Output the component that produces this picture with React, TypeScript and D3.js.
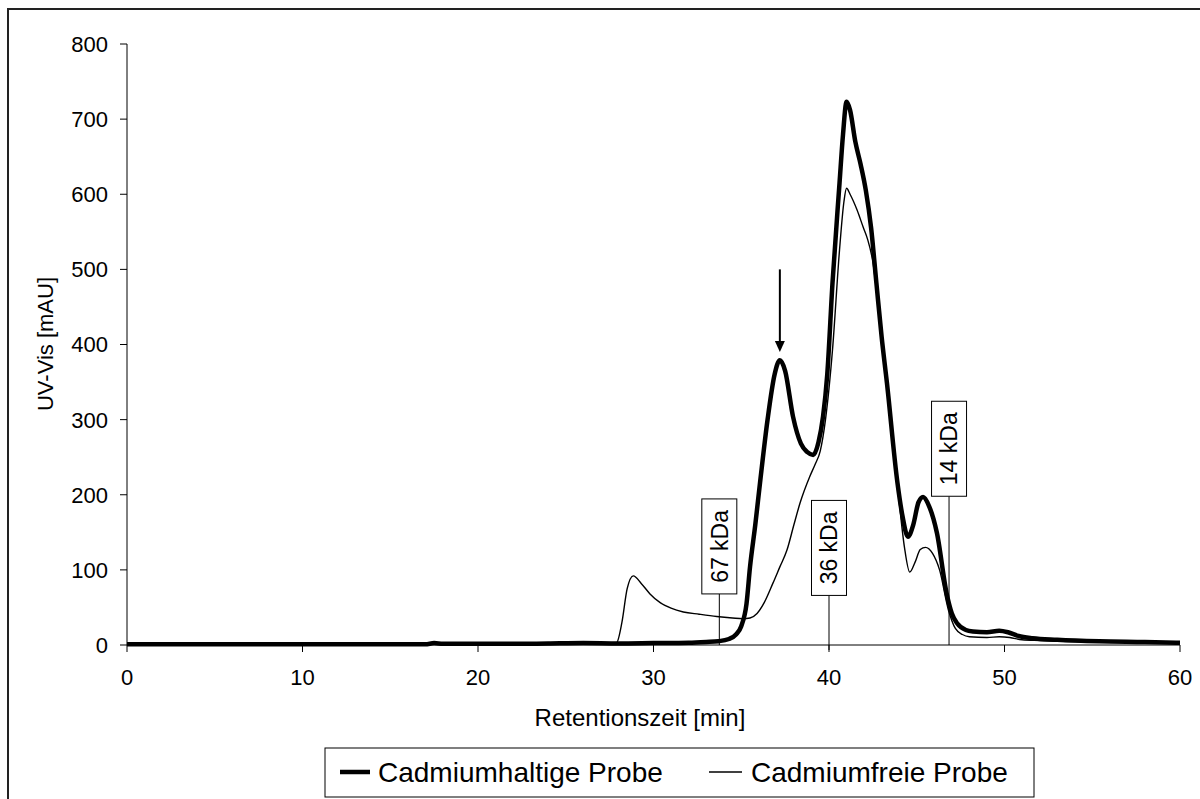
import React from "react";
import * as d3 from "d3";

// ---- Data ----
const thickTimes = [0, 5, 10, 15, 17, 17.5, 18, 20, 22, 24, 26, 28, 30, 32, 33, 33.7, 34.3, 34.7, 35.0, 35.3, 35.5, 35.8, 36.07, 36.5, 36.9, 37.2, 37.5, 37.95, 38.4, 38.75, 39.1, 39.4, 39.66, 39.9, 40.2, 40.6, 40.8, 41.0, 41.2, 41.5, 41.8, 42.1, 42.4, 42.7, 43.0, 43.3, 43.9, 44.2, 44.5, 44.8, 45.1, 45.36, 45.7, 46.15, 46.7, 47.0, 47.3, 47.8, 48.2, 49.0, 49.7, 50.2, 50.8, 51.6, 53, 55.4, 58, 60];
const thickValues = [1, 1, 1, 1, 1, 2.5, 1.5, 1.5, 1.5, 2, 2.5, 2, 2.5, 3, 4, 5, 8, 14, 25, 55, 104, 160, 216, 300, 360, 379, 365, 304, 268, 257, 253, 270, 304, 360, 482, 615, 680, 723, 712, 670, 640, 605, 555, 482, 410, 349, 216, 170, 144, 160, 190, 197, 185, 149, 69, 42, 29, 20, 18, 17, 19, 17, 12, 9, 7, 5, 4, 3];

const thinTimes = [0, 10, 20, 25, 27.5, 27.9, 28.2, 28.5, 28.85, 29.3, 29.8, 30.4, 31.0, 31.7, 32.6, 33.6, 34.5, 35.1, 35.5, 35.9, 36.3, 36.8, 37.2, 37.6, 38.0, 38.35, 38.9, 39.2, 39.5, 39.8, 40.2, 40.6, 40.85, 41.0, 41.2, 41.6, 41.95, 42.2, 42.5, 43.0, 43.5, 44.0, 44.3, 44.6, 44.9, 45.2, 45.5, 45.9, 46.3, 46.8, 47.2, 47.6, 48, 49, 49.7, 50.3, 51, 52, 55, 58, 60];
const thinValues = [1, 1, 1, 1, 1, 3, 30, 75, 92, 82, 68, 56, 49, 44, 41, 38, 36, 35, 36, 42, 56, 82, 104, 126, 160, 189, 224, 240, 258, 300, 393, 526, 590, 608, 600, 579, 556, 540, 510, 405, 300, 190, 130, 97, 110, 127, 130, 122, 100, 47, 22, 14, 11, 10, 11, 10, 7, 6, 4, 3, 2];

const xTicks = [0, 10, 20, 30, 40, 50, 60];
const yTicks = [0, 100, 200, 300, 400, 500, 600, 700, 800];

const markerLabels = ["67 kDa", "36 kDa", "14 kDa"];
const markerTimes = [33.75, 40, 46.84];
const markerBoxBottoms = [68, 66, 198];

const arrowTime = 37.2;
const arrowFrom = 500;
const arrowTo = 390;

const seriesNames = ["Cadmiumhaltige Probe", "Cadmiumfreie Probe"];

export default function App() {
  const x = d3.scaleLinear().domain([0, 60]).range([127, 1180]);
  const y = d3.scaleLinear().domain([0, 800]).range([645, 44]);
  const line = d3
    .line<[number, number]>()
    .x((d) => x(d[0]))
    .y((d) => y(d[1]))
    .curve(d3.curveMonotoneX);
  const thick = line(thickTimes.map((t, i) => [t, thickValues[i]]) as [number, number][]) || "";
  const thin = line(thinTimes.map((t, i) => [t, thinValues[i]]) as [number, number][]) || "";
  const font = "'Liberation Sans', Arial, sans-serif";
  const boxW = 35;
  const boxH = 95;

  return (
    <svg
      width={1200}
      height={799}
      style={{ position: "absolute", left: 0, top: 0, background: "#fff" }}
      fontFamily={font}
    >
      <rect x={0} y={0} width={1200} height={799} fill="#fff" />
      {/* outer chart border (clipped by viewport) */}
      <rect x={8} y={9} width={1300} height={900} fill="none" stroke="#222" strokeWidth={2} />

      {/* Axes */}
      <line x1={127} x2={127} y1={y(800)} y2={y(0)} stroke="#000" strokeWidth={1} />
      <line x1={x(0)} x2={x(60)} y1={y(0)} y2={y(0)} stroke="#000" strokeWidth={1} />
      {yTicks.map((v) => (
        <g key={"y" + v}>
          <line x1={120} x2={127} y1={y(v)} y2={y(v)} stroke="#000" />
          <text x={108} y={y(v)} dy="0.36em" textAnchor="end" fontSize={22}>
            {v}
          </text>
        </g>
      ))}
      {xTicks.map((v) => (
        <g key={"x" + v}>
          <line x1={x(v)} x2={x(v)} y1={645} y2={652} stroke="#000" />
          <text x={x(v)} y={677} dy="0.36em" textAnchor="middle" fontSize={22}>
            {v}
          </text>
        </g>
      ))}
      <text x={640} y={717} dy="0.36em" textAnchor="middle" fontSize={24}>
        Retentionszeit [min]
      </text>
      <text
        transform={`translate(45,344) rotate(-90)`}
        dy="0.36em"
        textAnchor="middle"
        fontSize={22}
      >
        UV-Vis [mAU]
      </text>

      {/* Series */}
      <path d={thin} fill="none" stroke="#000" strokeWidth={1.4} strokeLinejoin="round" />
      <path d={thick} fill="none" stroke="#000" strokeWidth={4.5} strokeLinejoin="round" />

      {/* Markers */}
      {markerLabels.map((lab, i) => {
        const cx = x(markerTimes[i]);
        const by = y(markerBoxBottoms[i]);
        return (
          <g key={lab}>
            <line x1={cx} x2={cx} y1={by} y2={i === 1 ? 650 : 645} stroke="#000" strokeWidth={1} />
            <rect x={cx - boxW / 2} y={by - boxH} width={boxW} height={boxH} fill="#fff" stroke="#000" strokeWidth={1} />
            <text
              transform={`translate(${cx},${by - boxH / 2}) rotate(-90)`}
              dy="0.36em"
              textAnchor="middle"
              fontSize={23}
            >
              {lab}
            </text>
          </g>
        );
      })}

      {/* Arrow */}
      <line x1={x(arrowTime)} x2={x(arrowTime)} y1={y(arrowFrom)} y2={y(arrowTo) - 8} stroke="#000" strokeWidth={2} />
      <path
        d={`M${x(arrowTime) - 5},${y(arrowTo) - 11} L${x(arrowTime) + 5},${y(arrowTo) - 11} L${x(arrowTime)},${y(arrowTo)} Z`}
        fill="#000"
      />

      {/* Legend */}
      <rect x={325} y={748} width={709} height={49} fill="#fff" stroke="#000" strokeWidth={1} />
      <line x1={340} x2={370} y1={772} y2={772} stroke="#000" strokeWidth={4.5} />
      <text x={378} y={772} dy="0.36em" fontSize={28}>
        {seriesNames[0]}
      </text>
      <line x1={709} x2={742} y1={772} y2={772} stroke="#000" strokeWidth={1.4} />
      <text x={751} y={772} dy="0.36em" fontSize={28}>
        {seriesNames[1]}
      </text>
    </svg>
  );
}
